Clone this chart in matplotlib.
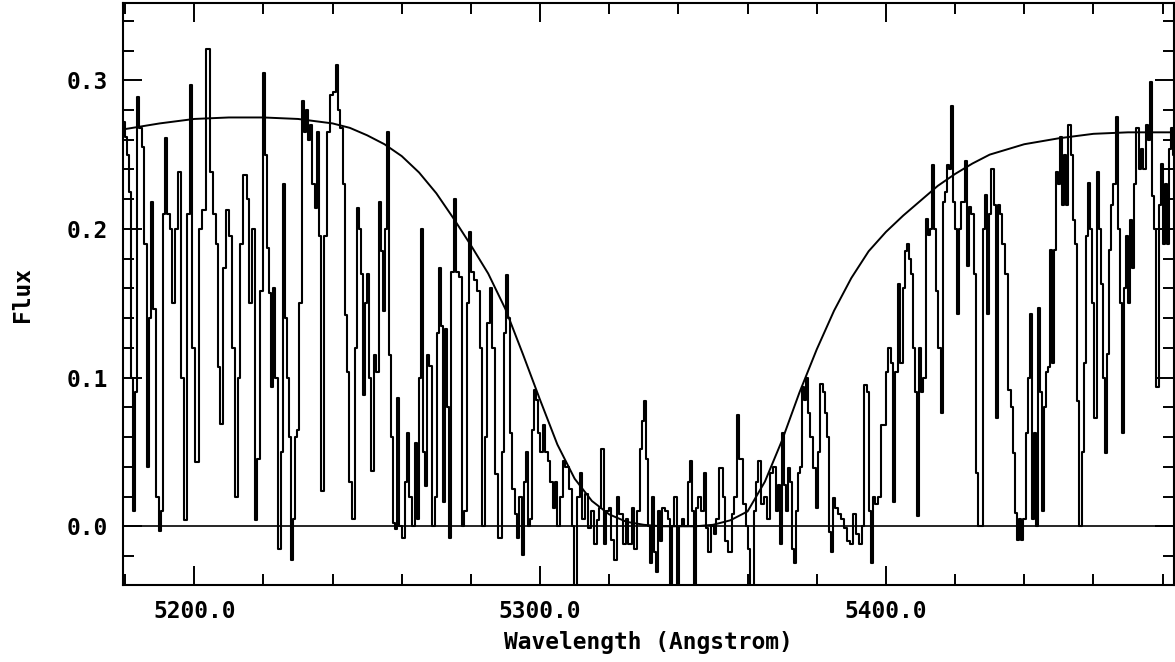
import numpy as np
import matplotlib.pyplot as plt
from matplotlib.ticker import MultipleLocator, FormatStrFormatter

wave = [5179.8, 5180.3, 5180.9, 5181.5, 5182.1, 5182.7, 5183.2, 5183.8, 5184.4, 5185.3,
        5185.8, 5186.7, 5187.3, 5187.9, 5188.4, 5189.3, 5190.2, 5190.8, 5191.3, 5191.9,
        5192.5, 5193.4, 5193.9, 5194.8, 5195.7, 5196.5, 5197.4, 5198.3, 5199.1, 5199.7,
        5200.9, 5201.7, 5202.9, 5204.0, 5204.9, 5205.8, 5206.6, 5207.2, 5207.8, 5208.7,
        5209.5, 5210.4, 5211.3, 5212.1, 5213.0, 5213.6, 5214.7, 5215.6, 5216.2, 5217.1,
        5217.9, 5218.5, 5219.4, 5220.2, 5220.8, 5221.4, 5222.0, 5222.5, 5223.1, 5223.7,
        5224.6, 5225.4, 5226.0, 5226.6, 5227.2, 5227.7, 5228.3, 5228.9, 5229.5, 5230.1,
        5230.6, 5231.5, 5232.1, 5232.7, 5233.2, 5233.8, 5234.4, 5235.3, 5235.8, 5236.4,
        5237.0, 5237.9, 5238.7, 5239.6, 5240.5, 5241.3, 5241.9, 5242.5, 5243.4, 5243.9,
        5244.5, 5245.1, 5246.0, 5246.8, 5247.4, 5248.0, 5248.6, 5249.1, 5249.7, 5250.3,
        5250.9, 5251.4, 5252.3, 5252.9, 5253.8, 5254.3, 5254.9, 5255.5, 5256.1, 5256.6,
        5257.2, 5257.8, 5258.4, 5259.0, 5259.5, 5260.4, 5261.3, 5261.8, 5262.4, 5263.3,
        5264.1, 5264.7, 5265.3, 5265.9, 5266.5, 5267.0, 5267.6, 5268.2, 5269.1, 5269.9,
        5270.5, 5271.1, 5271.7, 5272.2, 5272.8, 5273.4, 5274.0, 5274.6, 5275.4, 5276.0,
        5276.9, 5277.8, 5278.3, 5279.2, 5279.8, 5280.3, 5281.2, 5282.1, 5283.0, 5283.5,
        5284.4, 5285.0, 5285.8, 5286.4, 5287.3, 5288.4, 5289.3, 5289.9, 5290.5, 5291.0,
        5291.6, 5292.2, 5293.1, 5293.6, 5294.2, 5295.1, 5295.7, 5296.2, 5296.8, 5297.4,
        5298.0, 5298.5, 5299.1, 5299.7, 5300.3, 5301.2, 5301.7, 5302.6, 5303.2, 5304.0,
        5304.6, 5305.2, 5306.1, 5306.9, 5307.8, 5308.7, 5309.5, 5310.4, 5311.0, 5311.8,
        5312.7, 5313.3, 5314.2, 5315.0, 5315.9, 5316.8, 5317.3, 5318.2, 5318.8, 5319.6,
        5320.2, 5321.1, 5321.9, 5322.5, 5323.4, 5324.3, 5325.1, 5326.0, 5326.9, 5327.7,
        5328.6, 5329.2, 5329.7, 5330.3, 5330.9, 5331.5, 5332.1, 5332.7, 5333.2, 5333.8,
        5334.4, 5335.0, 5335.6, 5336.4, 5337.3, 5337.9, 5338.4, 5339.3, 5339.9, 5340.5,
        5341.3, 5342.2, 5343.1, 5343.7, 5344.2, 5344.8, 5345.4, 5346.2, 5347.1, 5347.7,
        5348.3, 5348.9, 5349.8, 5350.6, 5351.4, 5352.3, 5353.2, 5354.0, 5354.9, 5355.8,
        5356.6, 5357.2, 5358.1, 5359.0, 5359.8, 5360.4, 5361.0, 5361.6, 5362.2, 5362.7,
        5363.6, 5364.4, 5365.3, 5366.2, 5367.0, 5367.9, 5368.5, 5369.1, 5369.6, 5370.2,
        5370.8, 5371.4, 5372.0, 5372.5, 5373.1, 5373.7, 5374.3, 5374.8, 5375.4, 5376.0,
        5376.6, 5377.2, 5377.7, 5378.6, 5379.5, 5380.0, 5380.6, 5381.5, 5382.0, 5382.6,
        5383.2, 5383.8, 5384.4, 5384.9, 5385.8, 5386.7, 5387.6, 5388.4, 5389.3, 5390.2,
        5391.0, 5391.9, 5392.8, 5393.3, 5394.2, 5394.8, 5395.4, 5395.9, 5396.5, 5397.4,
        5398.3, 5398.8, 5399.7, 5400.3, 5401.1, 5401.7, 5402.3, 5403.2, 5403.8, 5404.6,
        5405.2, 5405.8, 5406.4, 5406.9, 5407.5, 5408.1, 5408.7, 5409.2, 5409.8, 5410.4,
        5411.3, 5411.8, 5412.4, 5413.0, 5413.6, 5414.2, 5414.7, 5415.6, 5416.2, 5416.8,
        5417.3, 5417.9, 5418.5, 5419.1, 5419.7, 5420.2, 5420.8, 5421.4, 5422.3, 5423.2,
        5423.7, 5424.3, 5425.1, 5425.7, 5426.3, 5426.9, 5427.7, 5428.3, 5428.9, 5429.4,
        5430.0, 5430.9, 5431.5, 5432.0, 5432.6, 5433.2, 5434.1, 5434.9, 5435.8, 5436.4,
        5437.0, 5437.6, 5438.1, 5438.7, 5439.3, 5440.2, 5440.7, 5441.3, 5441.9, 5442.5,
        5443.1, 5443.6, 5444.2, 5444.8, 5445.4, 5445.9, 5446.5, 5447.1, 5447.7, 5448.2,
        5448.8, 5449.4, 5450.0, 5450.6, 5451.1, 5451.7, 5452.3, 5453.2, 5453.8, 5454.4,
        5454.9, 5455.5, 5456.4, 5457.0, 5457.5, 5458.1, 5458.7, 5459.3, 5459.8, 5460.7,
        5461.3, 5461.8, 5462.4, 5463.0, 5463.6, 5464.1, 5464.7, 5465.3, 5466.2, 5466.8,
        5467.3, 5467.9, 5468.5, 5469.1, 5469.6, 5470.2, 5470.8, 5471.4, 5472.0, 5472.8,
        5473.4, 5474.0, 5474.8, 5475.4, 5476.0, 5476.6, 5477.2, 5477.7, 5478.6, 5479.2,
        5479.8, 5480.3, 5480.9, 5481.5, 5482.1, 5482.6, 5483.2]
flux = [0.272, 0.262, 0.250, 0.225, 0.100, 0.010, 0.090, 0.289, 0.268, 0.255,
        0.190, 0.040, 0.140, 0.218, 0.146, 0.020, -0.003, 0.010, 0.210, 0.261,
        0.210, 0.200, 0.150, 0.200, 0.238, 0.100, 0.004, 0.210, 0.297, 0.120,
        0.043, 0.200, 0.213, 0.321, 0.238, 0.210, 0.190, 0.107, 0.069, 0.174,
        0.213, 0.195, 0.120, 0.020, 0.100, 0.190, 0.236, 0.220, 0.150, 0.200,
        0.004, 0.045, 0.158, 0.305, 0.250, 0.187, 0.157, 0.094, 0.160, 0.100,
        -0.015, 0.050, 0.230, 0.140, 0.100, 0.060, -0.023, 0.005, 0.060, 0.065,
        0.150, 0.286, 0.265, 0.280, 0.260, 0.270, 0.230, 0.214, 0.265, 0.195,
        0.024, 0.195, 0.265, 0.290, 0.292, 0.310, 0.280, 0.268, 0.230, 0.142,
        0.104, 0.030, 0.005, 0.120, 0.214, 0.200, 0.170, 0.088, 0.150, 0.170,
        0.100, 0.037, 0.115, 0.104, 0.218, 0.185, 0.145, 0.200, 0.265, 0.115,
        0.060, 0.002, -0.002, 0.086, 0.000, -0.008, 0.030, 0.063, 0.020, 0.000,
        0.056, 0.005, 0.100, 0.200, 0.050, 0.027, 0.115, 0.108, 0.000, 0.020,
        0.130, 0.174, 0.135, 0.016, 0.133, 0.080, -0.008, 0.171, 0.220, 0.171,
        0.168, 0.000, 0.010, 0.150, 0.198, 0.171, 0.166, 0.158, 0.120, 0.000,
        0.060, 0.137, 0.160, 0.120, 0.035, -0.008, 0.050, 0.130, 0.169, 0.140,
        0.063, 0.025, 0.008, -0.008, 0.020, -0.019, 0.030, 0.050, 0.000, 0.005,
        0.065, 0.092, 0.085, 0.063, 0.050, 0.068, 0.050, 0.044, 0.030, 0.012,
        0.030, 0.000, 0.020, 0.044, 0.040, 0.025, 0.000, -0.045, 0.020, 0.036,
        0.005, 0.022, -0.001, 0.010, -0.012, 0.004, 0.012, 0.052, -0.012, 0.010,
        0.012, -0.009, -0.023, 0.020, 0.008, -0.012, 0.005, -0.012, 0.012, -0.015,
        0.010, 0.052, 0.071, 0.084, 0.045, 0.000, -0.025, 0.020, -0.017, -0.031,
        0.010, -0.010, 0.012, 0.010, 0.005, -0.045, 0.000, 0.020, -0.039, 0.000,
        0.005, 0.000, 0.030, 0.044, 0.010, -0.045, 0.012, 0.020, 0.010, 0.036,
        -0.001, -0.017, 0.000, -0.005, 0.005, 0.039, 0.020, -0.010, -0.017, 0.008,
        0.020, 0.075, 0.045, 0.015, 0.000, -0.015, -0.045, -0.045, 0.010, 0.030,
        0.044, 0.015, 0.020, 0.005, 0.036, 0.040, 0.010, 0.028, -0.012, 0.063,
        0.028, 0.010, 0.039, 0.030, -0.015, -0.025, 0.010, 0.036, 0.040, 0.094,
        0.085, 0.100, 0.076, 0.060, 0.039, 0.012, 0.050, 0.096, 0.090, 0.076,
        0.060, -0.004, -0.017, 0.019, 0.012, 0.008, 0.005, -0.001, -0.010, -0.012,
        0.008, -0.005, -0.012, 0.000, 0.095, 0.090, 0.010, -0.025, 0.020, 0.015,
        0.020, 0.068, 0.068, 0.104, 0.120, 0.110, 0.016, 0.104, 0.163, 0.110,
        0.160, 0.185, 0.190, 0.180, 0.170, 0.120, 0.090, 0.007, 0.120, 0.090,
        0.100, 0.207, 0.196, 0.200, 0.243, 0.200, 0.158, 0.120, 0.076, 0.218,
        0.225, 0.243, 0.240, 0.283, 0.218, 0.200, 0.143, 0.200, 0.218, 0.246,
        0.175, 0.215, 0.210, 0.170, 0.036, 0.000, 0.000, 0.200, 0.223, 0.143,
        0.210, 0.240, 0.216, 0.073, 0.216, 0.210, 0.190, 0.170, 0.092, 0.080,
        0.049, 0.009, -0.009, 0.005, -0.009, 0.005, 0.063, 0.100, 0.143, 0.005,
        0.063, 0.000, 0.147, 0.090, 0.010, 0.080, 0.104, 0.107, 0.186, 0.110,
        0.186, 0.238, 0.230, 0.262, 0.216, 0.250, 0.216, 0.270, 0.250, 0.206,
        0.190, 0.084, 0.000, 0.050, 0.110, 0.195, 0.231, 0.200, 0.150, 0.073,
        0.238, 0.200, 0.163, 0.100, 0.049, 0.116, 0.186, 0.216, 0.230, 0.275,
        0.200, 0.150, 0.063, 0.160, 0.195, 0.150, 0.206, 0.174, 0.230, 0.268,
        0.240, 0.254, 0.240, 0.270, 0.260, 0.299, 0.222, 0.200, 0.094, 0.216,
        0.244, 0.190, 0.230, 0.190, 0.254, 0.268, 0.250]

# fitted damped profile
fit_wave = [5179.5, 5190, 5200, 5210, 5220, 5230, 5240, 5245, 5250, 5255,
            5260, 5265, 5270, 5275, 5280, 5285, 5290, 5295, 5300, 5305,
            5310, 5315, 5320, 5325, 5330, 5335, 5340, 5345, 5350, 5355,
            5360, 5365, 5370, 5375, 5380, 5385, 5390, 5395, 5400, 5405,
            5410, 5415, 5420, 5425, 5430, 5440, 5450, 5460, 5470, 5483.5]
fit_flux = [0.267, 0.271, 0.274, 0.275, 0.275, 0.274, 0.271, 0.268, 0.263, 0.257,
            0.249, 0.238, 0.224, 0.207, 0.189, 0.170, 0.146, 0.116, 0.085, 0.055,
            0.032, 0.017, 0.008, 0.003, 0.001, 0.000, 0.000, 0.000, 0.001, 0.004,
            0.010, 0.030, 0.058, 0.090, 0.119, 0.145, 0.167, 0.185, 0.198, 0.209,
            0.219, 0.229, 0.237, 0.244, 0.250, 0.257, 0.261, 0.264, 0.265, 0.265]

plt.rcParams['font.family'] = 'DejaVu Sans Mono'
plt.rcParams['font.weight'] = 'bold'

fig = plt.figure(figsize=(11.75, 6.62), dpi=100)
ax = fig.add_axes([123 / 1175, 1 - 585 / 662, 1051 / 1175, 582 / 662])

ax.plot(wave, flux, drawstyle='steps-mid', color='black', lw=1.5)
ax.plot(fit_wave, fit_flux, color='black', lw=1.4)
ax.axhline(0.0, color='black', lw=1.2)

ax.set_xlim(5179.4, 5483.3)
ax.set_ylim(-0.0395, 0.352)

ax.xaxis.set_major_locator(MultipleLocator(100))
ax.xaxis.set_minor_locator(MultipleLocator(20))
ax.yaxis.set_major_locator(MultipleLocator(0.1))
ax.yaxis.set_minor_locator(MultipleLocator(0.02))
ax.xaxis.set_major_formatter(FormatStrFormatter('%.1f'))
ax.yaxis.set_major_formatter(FormatStrFormatter('%.1f'))

ax.tick_params(which='both', direction='in', top=True, right=True,
               width=1.4, labelsize=16.5)
ax.tick_params(which='major', length=14)
ax.tick_params(which='minor', length=8)
ax.tick_params(axis='x', pad=10.5)
ax.tick_params(axis='y', pad=10.8)
for s in ax.spines.values():
    s.set_linewidth(1.5)

ax.set_xlabel('Wavelength (Angstrom)', fontsize=16.5, fontweight='bold', va='center')
ax.xaxis.set_label_coords(0.5, -58 / 582)
ax.set_ylabel('Flux', fontsize=16.5, fontweight='bold', va='center')
ax.yaxis.set_label_coords(-101 / 1051, 0.5)

fig.savefig('out.png', dpi=100)
